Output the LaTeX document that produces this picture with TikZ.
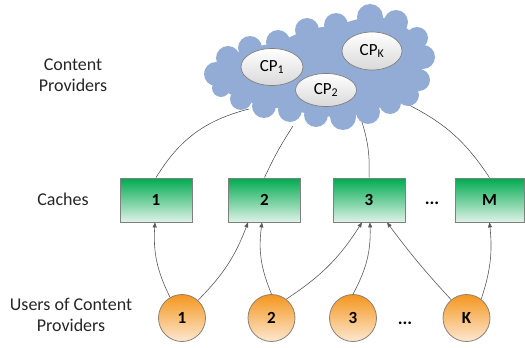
\documentclass[tikz,border=0pt]{standalone}
\usepackage{fontspec}
\setmainfont{Carlito}
\usetikzlibrary{arrows.meta,calc,shapes.geometric}
\definecolor{cloudblue}{RGB}{146,172,214}
\definecolor{boxtop}{RGB}{0,170,80}
\definecolor{boxbot}{RGB}{222,242,230}
\definecolor{ortop}{RGB}{245,150,30}
\definecolor{orbot}{RGB}{252,232,210}
\definecolor{edgegray}{RGB}{128,128,128}
\definecolor{arrgray}{RGB}{90,90,90}
\begin{document}
\begin{tikzpicture}[x=1pt,y=-1pt,
  lbl/.style={font=\fontsize{18}{21.5}\selectfont, align=center, text=black!85},
  cachebox/.style={draw=edgegray, line width=0.8pt, minimum width=72pt, minimum height=44pt,
     top color=boxtop, bottom color=boxbot, font=\fontsize{17}{20}\selectfont\bfseries, inner sep=0pt},
  usercirc/.style={circle, draw=edgegray!80!brown, line width=0.8pt, minimum size=47pt, inner sep=0pt,
     top color=ortop, bottom color=orbot, font=\fontsize{17}{20}\selectfont\bfseries},
  cpell/.style={ellipse, draw=edgegray, line width=0.7pt, top color=white, bottom color=black!15,
     font=\fontsize{17}{20}\selectfont, inner sep=0pt},
  uarr/.style={draw=arrgray, line width=0.6pt, -{Triangle[length=5pt,width=4pt]}},
  cline/.style={draw=black!75, line width=0.5pt},
  dotslbl/.style={font=\fontsize{18}{21}\selectfont\bfseries, anchor=base, inner sep=0pt}
]
\useasboundingbox (0,0) rectangle (525,348);

% labels
\node[lbl] (lcp) at (73,75) {Content\\Providers};
\node[lbl] (lca) at (63,199) {Caches};
\node[lbl] (lus) at (71,315) {Users of Content\\Providers};

% caches
\node[cachebox] (c1) at (156,200) {1};
\node[cachebox] (c2) at (264.5,200) {2};
\node[cachebox] (c3) at (369,200) {3};
\node[cachebox, minimum width=69pt] (cM) at (489.5,200) {M};
\node[dotslbl] (cdots) at (432,204) {...};

% users
\node[usercirc] (u1) at (182,318) {1};
\node[usercirc] (u2) at (271.5,318) {2};
\node[usercirc] (u3) at (353,318) {3};
\node[usercirc] (uK) at (466.5,318) {K};
\node[dotslbl] (udots) at (405,324) {...};

% cloud attachment points
\coordinate (k1) at (249,109);
\coordinate (k2) at (293,126);
\coordinate (k3) at (361,119);
\coordinate (k4) at (405,103);

% cloud lines
\draw[cline] (c1.north) to[bend left=22] (k1);
\draw[cline] (c2.north) to[bend left=4] (k2);
\draw[cline] (c3.north) to[bend right=10] (k3);
\draw[cline] (cM.north) to[bend right=15] (k4);

% cloud
\fill[cloudblue] plot[smooth cycle, tension=0.6] coordinates {
  (216,74) (228,58) (250,48) (278,42) (307,30) (336,25) (370,17) (396,22) (417,38)
  (423,57) (419,80) (408,95) (390,103) (368,112) (343,117) (316,115) (290,110)
  (264,106) (241,99) (221,88)};
\foreach \cx/\cy/\r in {216/74/12, 228/58/12, 250/48/12, 278/42/12, 307/30/12,
  336/25/12, 370/17/13, 396/22/12, 417/38/11, 423/57/12, 419/80/11, 408/95/11,
  390/103/11, 368/112/12, 343/117/13, 316/115/12, 290/110/12, 264/106/12,
  241/99/11, 221/88/9}
  \fill[cloudblue] (\cx,\cy) circle[radius=\r];

% content providers
\node[cpell, minimum width=62pt, minimum height=37pt] (cp1) at (272,67) {CP\textsubscript{1}};
\node[cpell, minimum width=61pt, minimum height=33pt] (cp2) at (326,90) {CP\textsubscript{2}};
\node[cpell, minimum width=60pt, minimum height=38pt] (cpK) at (372,51) {CP\textsubscript{K}};

% user arrows
\draw[uarr] (u1.120) to[bend left=15] ($(c1.south)+(-1,0)$);
\draw[uarr] (u1.48) to[bend right=12] ($(c2.south)+(-16.5,0)$);
\draw[uarr] (u2.90) to[bend left=15] ($(c2.south)+(-2.5,0)$);
\draw[uarr] (u2.52) to[bend right=12] ($(c3.south)+(-7,0)$);
\draw[uarr] (u3.90) to[bend right=15] ($(c3.south)+(1,0)$);
\draw[uarr] (uK.130) to[bend left=3] ($(c3.south)+(18,0)$);
\draw[uarr] (uK.52) to[bend right=12] (cM.south);
\end{tikzpicture}
\end{document}
